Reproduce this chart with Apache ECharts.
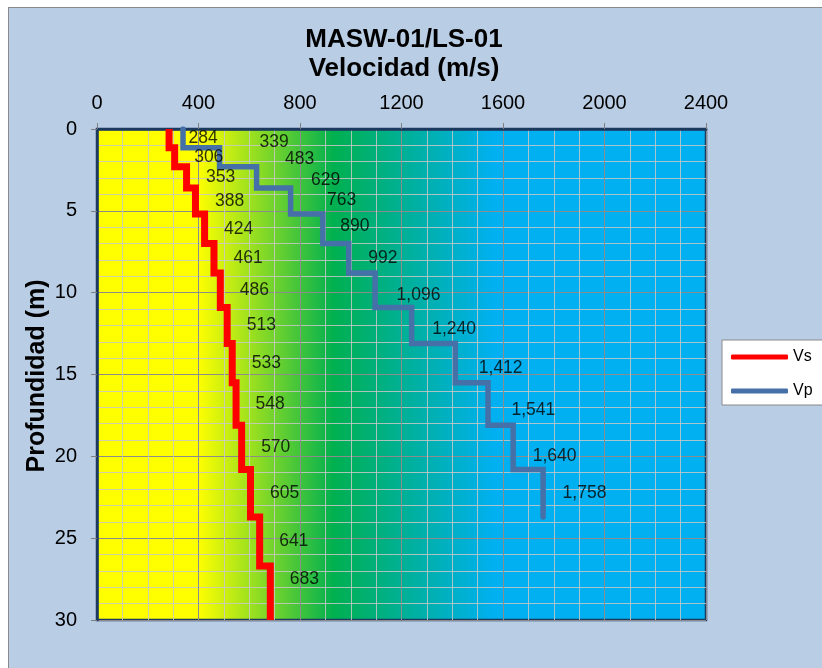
<!DOCTYPE html>
<html>
<head>
<meta charset="utf-8">
<script src="https://cdn.jsdelivr.net/npm/echarts@6/dist/echarts.min.js"></script>
<style>
  body { margin: 0; background: #ffffff; }
  #frame {
    position: absolute; left: 8px; top: 7px; width: 814px; height: 661px;
    background: #b9cde5; border-left: 1px solid #8a8a8a; border-top: 1px solid #8a8a8a;
  }
  #chart { position: absolute; left: 0; top: 0; width: 822px; height: 668px; }
</style>
</head>
<body>
<div id="frame"></div>
<div id="chart"></div>
<script>
// layer boundaries (m) shared by both profiles
const depthBounds = [0, 1.15, 2.3, 3.6, 5.2, 7.0, 8.8, 10.9, 13.1, 15.5, 18.1, 20.8, 23.7, 26.7, 30];
const vsValues = [284, 306, 353, 388, 424, 461, 486, 513, 533, 548, 570, 605, 641, 683];
const vpValues = [339, 483, 629, 763, 890, 992, 1096, 1240, 1412, 1541, 1640, 1758];
const seriesNames = ['Vs', 'Vp'];

// label nudges (px), index -> [dx, dy]
const vsNudge = { 13: [0, -14] };
const vpNudge = {
  0: [57, 4], 1: [46, 2], 2: [35, 3], 3: [17, -1], 4: [-2, -3],
  6: [2, 5], 7: [1, 4], 8: [4, 5], 9: [4, 6], 10: [0, 9],
};

const FONT = '"Liberation Sans", Arial, sans-serif';

const stepLine = (vals) => {
  const pts = [];
  vals.forEach((v, i) => {
    pts.push([v, depthBounds[i]]);
    pts.push([v, depthBounds[i + 1]]);
  });
  return pts;
};

const labelPoints = (vals, nudge) =>
  vals.map((v, i) => ({
    value: [v, (depthBounds[i] + depthBounds[i + 1]) / 2],
    label: { offset: nudge[i] || [0, 0] },
  }));

const labelSeries = (vals, nudge) => ({
  type: 'scatter',
  data: labelPoints(vals, nudge),
  symbolSize: 1,
  itemStyle: { color: 'rgba(0,0,0,0)' },
  silent: true,
  z: 5,
  label: {
    show: true,
    position: 'right',
    distance: 19,
    color: '#000',
    fontFamily: FONT,
    fontSize: 17.5,
    formatter: (p) => p.value[0].toLocaleString('en-US'),
  },
});

const chart = echarts.init(document.getElementById('chart'));

const option = {
  backgroundColor: 'transparent',
  animation: false,
  title: {
    text: 'MASW-01/LS-01\nVelocidad (m/s)',
    left: 399,
    top: 20,
    textAlign: 'center',
    textStyle: { fontFamily: FONT, fontSize: 26, fontWeight: 'bold', color: '#000', lineHeight: 29 },
  },
  legend: {
    orient: 'vertical',
    left: 722,
    top: 340,
    padding: [7, 40, 4, 9],
    backgroundColor: '#ffffff',
    borderColor: '#8a8a8a',
    borderWidth: 1,
    borderRadius: 0,
    icon: 'roundRect',
    itemWidth: 57,
    itemHeight: 5,
    itemGap: 14,
    textStyle: { fontFamily: FONT, fontSize: 16, color: '#000', lineHeight: 20 },
    data: seriesNames,
  },
  graphic: [
    {
      type: 'text',
      x: 37,
      y: 376,
      rotation: Math.PI / 2,
      style: {
        text: 'Profundidad (m)',
        font: 'bold 25px ' + FONT,
        fill: '#000',
        align: 'center',
        verticalAlign: 'middle',
      },
    },
  ],
  grid: {
    left: 97,
    top: 129,
    width: 609,
    height: 491,
    show: true,
    borderColor: '#1c3a60',
    borderWidth: 2.5,
    backgroundColor: {
      type: 'linear', x: 0, y: 0, x2: 1, y2: 0,
      colorStops: [
        { offset: 0, color: '#ffff00' },
        { offset: 0.167, color: '#ffff00' },
        { offset: 0.39, color: '#00b050' },
        { offset: 0.65, color: '#00b0f0' },
        { offset: 1, color: '#00b0f0' },
      ],
    },
  },
  xAxis: {
    type: 'value',
    position: 'top',
    min: 0,
    max: 2400,
    interval: 400,
    axisLine: { show: true, lineStyle: { color: '#1c3a60', width: 2.5 } },
    axisTick: { show: true, length: 6, lineStyle: { color: '#7f7f7f' } },
    axisLabel: { fontFamily: FONT, fontSize: 20, color: '#000', margin: 16, formatter: (v) => String(v) },
    splitLine: { show: true, lineStyle: { color: '#8c8c8c', width: 1 } },
    minorTick: { show: false, splitNumber: 4 },
    minorSplitLine: { show: true, lineStyle: { color: 'rgba(200,200,200,0.85)', width: 1 } },
  },
  yAxis: {
    type: 'value',
    inverse: true,
    min: 0,
    max: 30,
    interval: 5,
    axisLine: { show: true, lineStyle: { color: '#1c3a60', width: 2.5 } },
    axisTick: { show: true, length: 6, lineStyle: { color: '#7f7f7f' } },
    axisLabel: { fontFamily: FONT, fontSize: 20, color: '#000', margin: 20 },
    splitLine: { show: true, lineStyle: { color: '#8c8c8c', width: 1 } },
    minorTick: { show: false, splitNumber: 5 },
    minorSplitLine: { show: true, lineStyle: { color: 'rgba(200,200,200,0.85)', width: 1 } },
  },
  series: [
    {
      name: 'Vs',
      type: 'line',
      data: stepLine(vsValues),
      symbol: 'none',
      color: '#ff0000',
      lineStyle: { color: '#ff0000', width: 7, join: 'miter' },
      z: 4,
    },
    {
      name: 'Vp',
      type: 'line',
      data: stepLine(vpValues),
      symbol: 'none',
      color: '#4670a8',
      lineStyle: { color: '#4670a8', width: 5.5, join: 'miter', cap: 'round' },
      z: 3,
    },
    labelSeries(vsValues, vsNudge),
    labelSeries(vpValues, vpNudge),
  ],
};

chart.setOption(option);
</script>
</body>
</html>
